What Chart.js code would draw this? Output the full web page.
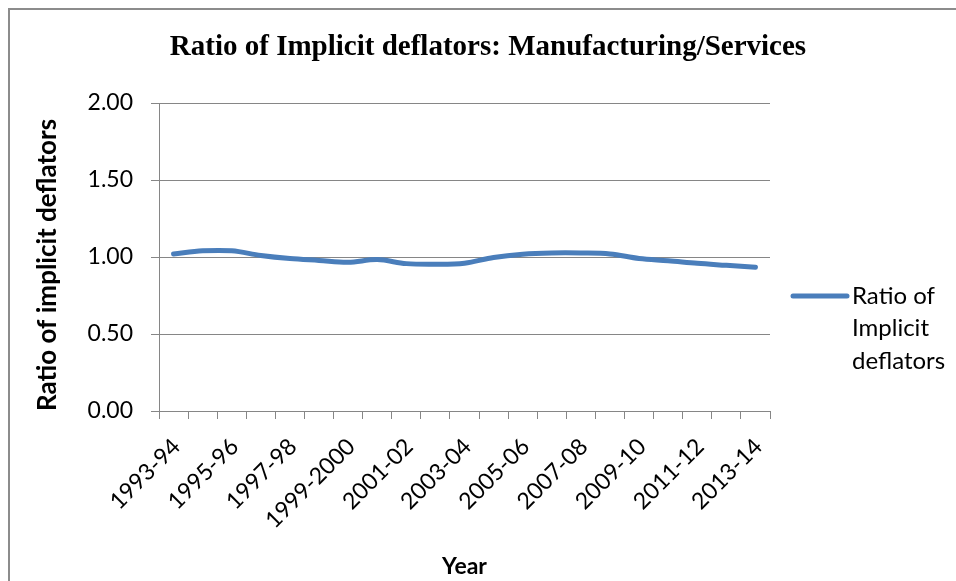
<!DOCTYPE html>
<html>
<head>
<meta charset="utf-8">
<script src="https://cdn.jsdelivr.net/npm/chart.js@4.4.1/dist/chart.umd.min.js"></script>
<style>
  html, body { margin: 0; padding: 0; background: #fff; }
  #wrapper { position: relative; width: 956px; height: 581px; overflow: hidden; }
  #frame {
    position: absolute; left: 8px; top: 8px; width: 1000px; height: 700px;
    border-left: 2px solid #8c8c8c; border-top: 2px solid #8c8c8c;
  }
  #chart-deflators { position: absolute; left: 0; top: 0; }
</style>
</head>
<body>
<div id="wrapper">
  <div id="frame"></div>
  <canvas id="chart-deflators" width="956" height="581"></canvas>
</div>
<script>
// Years (x categories)
const years = [
  "1993-94", "1994-95", "1995-96", "1996-97", "1997-98", "1998-99",
  "1999-2000", "2000-01", "2001-02", "2002-03", "2003-04", "2004-05",
  "2005-06", "2006-07", "2007-08", "2008-09", "2009-10", "2010-11",
  "2011-12", "2012-13", "2013-14"
];

// Ratio of implicit deflators
const ratioValues = [
  1.02, 1.04, 1.04, 1.01, 0.99, 0.978,
  0.966, 0.983, 0.957, 0.953, 0.96, 0.997,
  1.018, 1.026, 1.026, 1.02, 0.99, 0.976,
  0.959, 0.946, 0.933
];

const chartTitle = "Ratio of Implicit deflators: Manufacturing/Services";
const seriesLabel = "Ratio of Implicit deflators";
const legendLines = ["Ratio of", "Implicit", "deflators"];
const yTicks = [0, 0.5, 1, 1.5, 2];

const lineColor = "#4a7ebb";
const gridColor = "#868686";
const sansFont = "Lato, 'Open Sans', sans-serif";

// title centred on the whole canvas (the built-in one centres over the plot part only)
const pageTitle = {
  id: "pageTitle",
  afterDraw(chart) {
    const ctx = chart.ctx;
    ctx.save();
    ctx.fillStyle = "#000";
    ctx.font = "bold 29px 'Liberation Serif', 'Times New Roman', serif";
    ctx.textAlign = "center";
    ctx.textBaseline = "middle";
    ctx.fillText(chartTitle, chart.width / 2 + 10, 48);
    ctx.restore();
  },
};

// legend drawn on the right, text broken over three lines like the original
const sideLegend = {
  id: "sideLegend",
  afterDraw(chart) {
    const { ctx, chartArea } = chart;
    const ds = chart.data.datasets[0];
    const x0 = chartArea.right + 23;
    const y0 = chartArea.top + 193;

    ctx.save();
    ctx.strokeStyle = ds.borderColor;
    ctx.lineWidth = 5;
    ctx.lineCap = "round";
    ctx.beginPath();
    ctx.moveTo(x0, y0);
    ctx.lineTo(x0 + 54, y0);
    ctx.stroke();

    ctx.fillStyle = "#000";
    ctx.font = "24px " + sansFont;
    ctx.textBaseline = "middle";
    ctx.textAlign = "left";
    legendLines.forEach((t, i) => {
      ctx.fillText(t, x0 + 59, y0 + i * 32.5);
    });
    ctx.restore();
  },
};

const ctx = document.getElementById("chart-deflators").getContext("2d");

new Chart(ctx, {
  type: "line",
  data: {
    labels: years,
    datasets: [
      {
        label: seriesLabel,
        data: ratioValues,
        borderColor: lineColor,
        backgroundColor: lineColor,
        borderWidth: 5,
        borderCapStyle: "round",
        borderJoinStyle: "round",
        pointRadius: 0,
        tension: 0.35,
        fill: false,
      },
    ],
  },
  options: {
    responsive: false,
    animation: false,
    layout: {
      padding: { left: 10, right: 186, top: 103, bottom: 0 },
    },
    scales: {
      x: {
        offset: true,
        grid: {
          drawOnChartArea: false,
          offset: true,
          tickLength: 8,
          color: gridColor,
        },
        border: { color: gridColor, width: 1 },
        ticks: {
          autoSkip: false,
          maxRotation: 45,
          minRotation: 45,
          padding: 14,
          labelOffset: 3,
          color: "#000",
          font: { family: sansFont, size: 23 },
          callback: (v, i) => (i % 2 === 0 ? years[i] : ""),
        },
        title: {
          display: true,
          text: "Year",
          color: "#000",
          font: { family: sansFont, size: 23, weight: "bold" },
          padding: { top: 0, bottom: 1 },
        },
        afterFit: (scale) => {
          scale.height = 581 - 411;
        },
      },
      y: {
        min: 0,
        max: 2,
        afterBuildTicks: (scale) => {
          scale.ticks = yTicks.map((v) => ({ value: v }));
        },
        grid: {
          color: gridColor,
          tickLength: 8,
        },
        border: { color: gridColor, width: 1 },
        ticks: {
          padding: 18,
          color: "#000",
          font: { family: sansFont, size: 23 },
          callback: (v) => Number(v).toFixed(2),
        },
        title: {
          display: true,
          align: "start",
          text: "Ratio of implicit deflators",
          color: "#000",
          font: { family: sansFont, size: 26, weight: "bold" },
          padding: { top: 22, bottom: 0 },
        },
        afterFit: (scale) => {
          scale.width = 159 - 10;
        },
      },
    },
    plugins: {
      legend: { display: false },
      tooltip: { enabled: false },
      title: { display: false },
    },
  },
  plugins: [pageTitle, sideLegend],
});
</script>
</body>
</html>
